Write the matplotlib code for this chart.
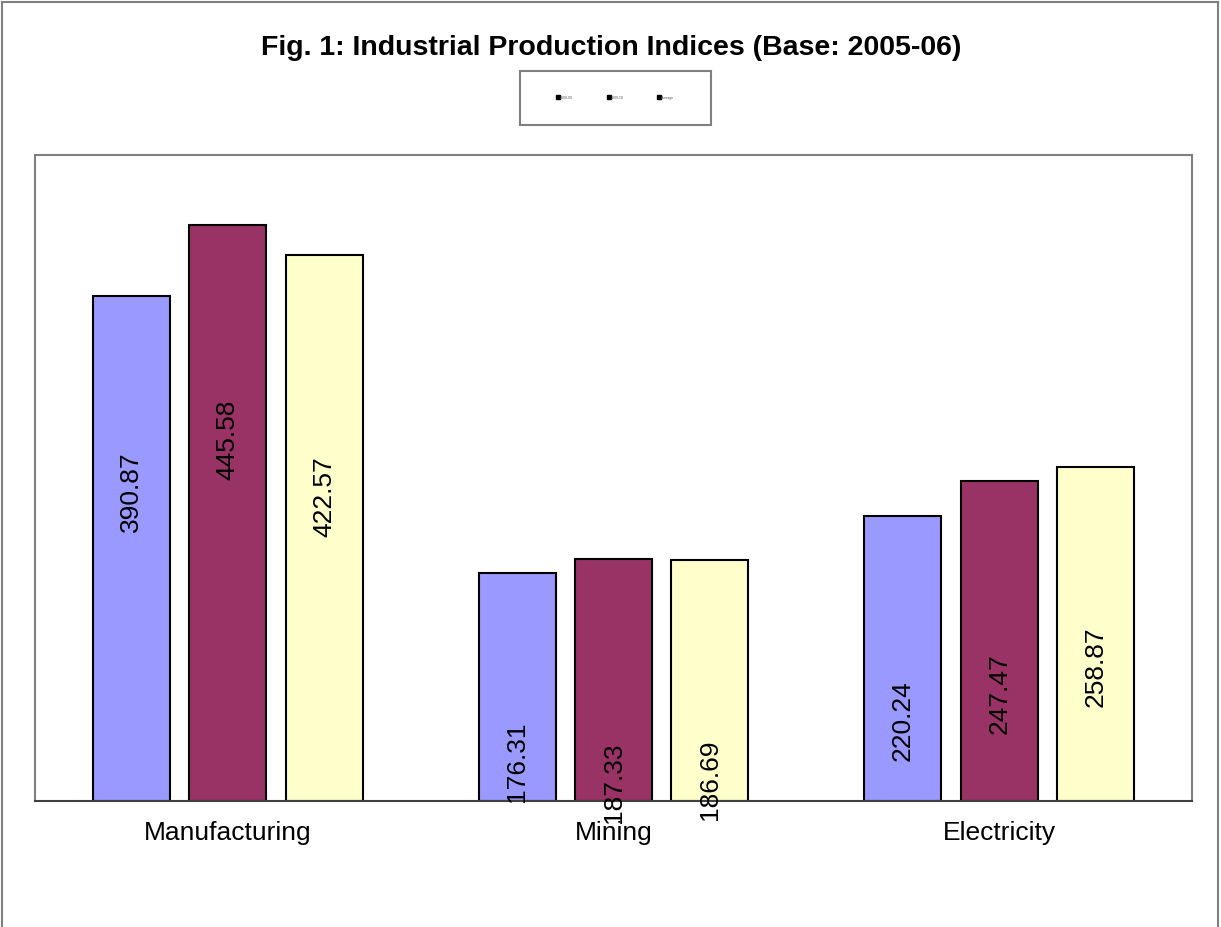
import numpy as np
import matplotlib
matplotlib.use('Agg')
import matplotlib.pyplot as plt
from matplotlib.patches import Rectangle
from matplotlib.lines import Line2D

plt.rcParams['font.family'] = ['Liberation Sans', 'DejaVu Sans']

# data
categories = ['Manufacturing', 'Mining', 'Electricity']
series_names = ['2008-09', '2009-10', 'Average']
series_1 = [390.87, 176.31, 220.24]
series_2 = [445.58, 187.33, 247.47]
series_3 = [422.57, 186.69, 258.87]
colors = ['#9999FF', '#993366', '#FFFFCC']

# where the value labels sit inside each bar (Excel-ish, not centred)
label_y = [[240, 31, 63], [280, 15, 84], [236, 17, 105]]

fig = plt.figure(figsize=(12.21, 9.28), dpi=100)

# outer chart frame
fig.add_artist(Line2D([0.002, 0.002], [0, 0.997], color='#808080', lw=1.5))
fig.add_artist(Line2D([0.002, 0.9975], [0.997, 0.997], color='#808080', lw=1.5))
fig.add_artist(Line2D([0.9975, 0.9975], [0, 0.997], color='#808080', lw=1.5))

ax = fig.add_axes([0.02867, 0.13578, 0.94758, 0.69612])

x = np.arange(len(categories))
width = 0.2
offsets = [-0.25, 0, 0.25]
all_series = [series_1, series_2, series_3]

for i, vals in enumerate(all_series):
    ax.bar(x + offsets[i], vals, width, color=colors[i], edgecolor='black', linewidth=1.5, zorder=2)
    for j, v in enumerate(vals):
        ax.text(x[j] + offsets[i], label_y[i][j], f"{v:.2f}", rotation=90,
                ha='center', va='center', fontsize=19, color='black', zorder=3,
                clip_on=False)

ax.set_xlim(-0.5, 2.5)
ax.set_ylim(0, 500)
ax.set_yticks([])
ax.set_xticks(x)
ax.set_xticklabels(categories, fontsize=19)
ax.tick_params(axis='x', length=0, pad=14)

for s in ['left', 'top', 'right']:
    ax.spines[s].set_color('#808080')
    ax.spines[s].set_linewidth(1.5)
ax.spines['bottom'].set_color('#404040')
ax.spines['bottom'].set_linewidth(1.5)

# title
fig.text(0.5005, 0.948, 'Fig. 1: Industrial Production Indices (Base: 2005-06)',
         ha='center', va='center', fontsize=20.5, fontweight='bold')

# legend box (tiny, as in the original)
fig.add_artist(Rectangle((520 / 1221, 1 - 126 / 928), 191 / 1221, 54 / 928,
                         transform=fig.transFigure, facecolor='white',
                         edgecolor='#808080', lw=1.5))
leg_x = [558, 609, 659]
for k, name in enumerate(series_names):
    fig.add_artist(Line2D([leg_x[k] / 1221], [1 - 98 / 928], marker='s',
                          markersize=2.5, color='black', linestyle='none'))
    fig.text((leg_x[k] + 2) / 1221, 1 - 98 / 928, name, fontsize=2.5,
             ha='left', va='center', color='#555555')

fig.savefig('out.png', dpi=100)
